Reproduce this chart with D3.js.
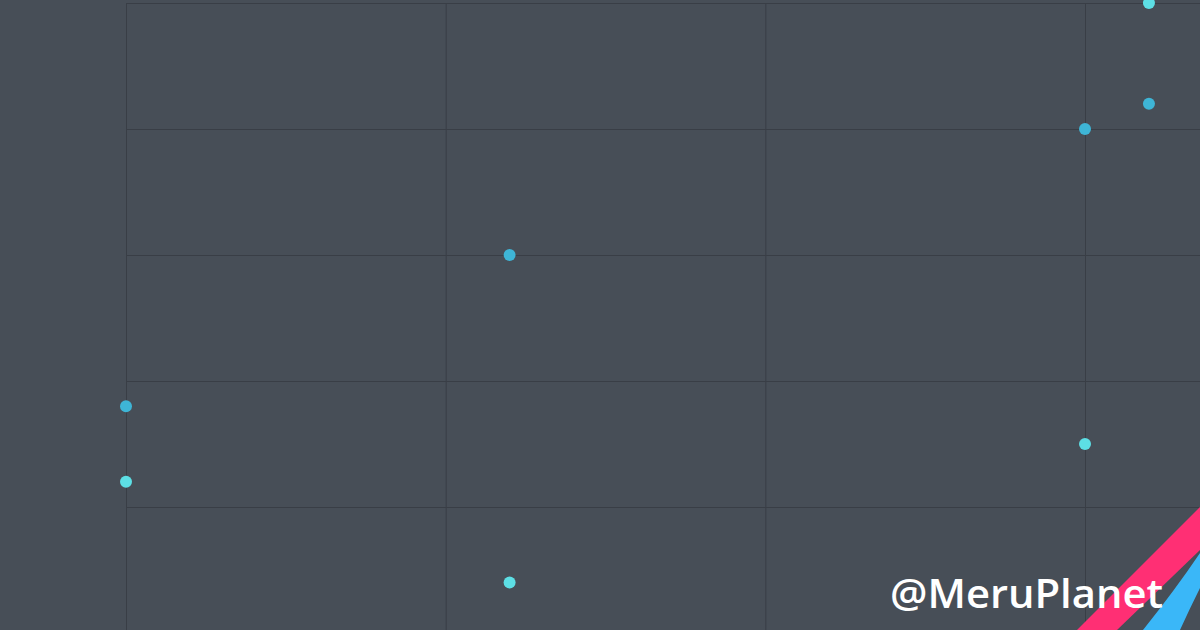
<!DOCTYPE html>
<html>
<head>
<meta charset="utf-8">
<script src="https://cdn.jsdelivr.net/npm/d3@7"></script>
<style>
html,body{margin:0;padding:0;background:#474e57;overflow:hidden;}
svg{display:block;}
</style>
</head>
<body>
<svg id="chart" width="1200" height="630"></svg>
<script>
// Data
const seriesNames = ["A", "B"];
const xValuesA = [0, 1.2, 3.0, 3.2];
const yValuesA = [1.8, 3.0, 4.0, 4.2];
const xValuesB = [0, 1.2, 3.0, 3.2];
const yValuesB = [1.2, 0.4, 1.5, 5.0];
const xTicks = [0, 1, 2, 3, 4];
const yTicks = [0, 1, 2, 3, 4, 5];
const watermark = "@MeruPlanet";

const W = 1200, H = 630;
const svg = d3.select("#chart");
svg.append("rect").attr("width", W).attr("height", H).attr("fill", "#474e57");

const x = d3.scaleLinear().domain([0, 4]).range([126, 126 + 4 * 319.67]);
const y = d3.scaleLinear().domain([0, 5]).range([633, 3]);

const grid = svg.append("g");
// vertical grid
grid.append("g")
  .attr("transform", `translate(0,${y(0)})`)
  .call(d3.axisBottom(x).tickValues(xTicks).tickSize(-(y(0) - y(5))).tickFormat(""))
  .call(g => g.select(".domain").remove())
  .call(g => g.selectAll("line").attr("stroke", "#393e46").attr("stroke-width", 1));
// horizontal grid
grid.append("g")
  .attr("transform", `translate(${x(0)},0)`)
  .call(d3.axisLeft(y).tickValues(yTicks).tickSize(-(x(4) - x(0))).tickFormat(""))
  .call(g => g.select(".domain").remove())
  .call(g => g.selectAll("line").attr("stroke", "#393e46").attr("stroke-width", 1));

const colors = { A: "#3eb5d6", B: "#5ddfe5" };
const series = [
  { name: "A", pts: xValuesA.map((v, i) => [v, yValuesA[i]]) },
  { name: "B", pts: xValuesB.map((v, i) => [v, yValuesB[i]]) }
];
series.forEach(s => {
  svg.append("g").selectAll("circle").data(s.pts).join("circle")
    .attr("cx", d => x(d[0]))
    .attr("cy", d => y(d[1]))
    .attr("r", 6)
    .attr("fill", colors[s.name]);
});

// decorative stripes
svg.append("path")
  .attr("d", "M1077,630 L1200,507 L1200,550 L1117,630 Z")
  .attr("fill", "#ff2f74");
svg.append("path")
  .attr("d", "M1143,630 Q1175,590 1200,553 L1200,588 Q1190,608 1180,630 Z")
  .attr("fill", "#3ab7f8");

svg.append("text")
  .attr("x", 890)
  .attr("y", 608)
  .attr("font-family", "'Open Sans', 'Noto Sans', sans-serif")
  .attr("font-weight", 600)
  .attr("font-size", 39)
  .attr("fill", "#ffffff")
  .attr("textLength", 273)
  .attr("lengthAdjust", "spacingAndGlyphs")
  .text(watermark);
</script>
</body>
</html>
